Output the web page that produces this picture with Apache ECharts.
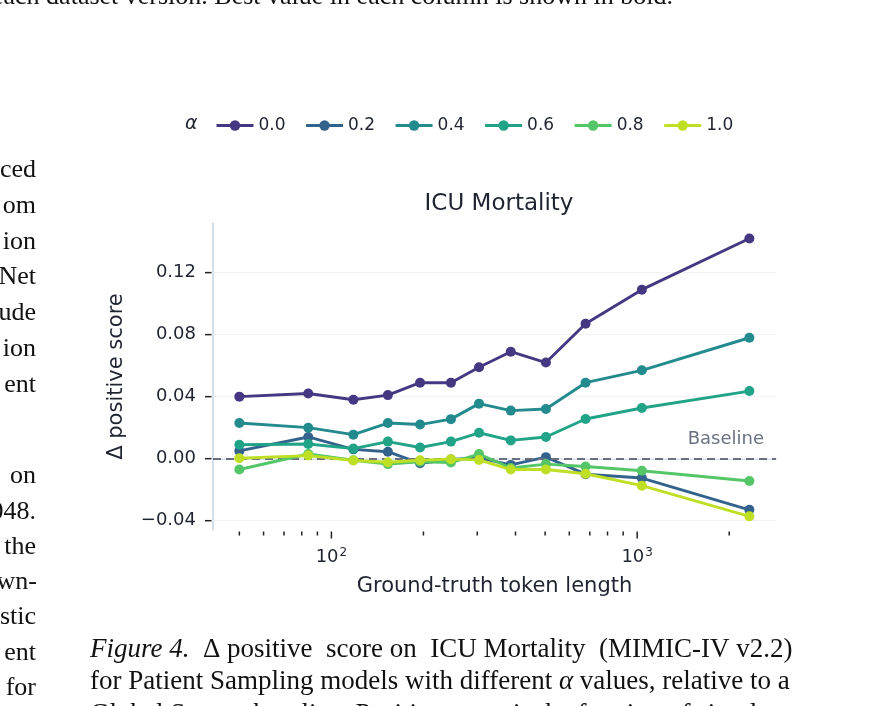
<!doctype html>
<html>
<head>
    <meta charset="utf-8">
    <title>ICU Mortality</title>
    <script src="https://cdn.jsdelivr.net/npm/echarts@6/dist/echarts.min.js"></script>
    <style>
    html, body { margin: 0; padding: 0; background: #fff; }
    #main { width: 883px; height: 706px; }
    </style>
</head>
<body>
    <div id="main"></div>
    <script>
    // token length bins (x) and delta positive score per alpha
    var tokenLen = [50, 84, 118, 153, 195, 246, 304, 386, 503, 678, 1036, 2328];
    var alphaNames = ['0.0', '0.2', '0.4', '0.6', '0.8', '1.0'];
    var a00 = [0.040, 0.042, 0.038, 0.041, 0.049, 0.049, 0.059, 0.069, 0.062, 0.087, 0.109, 0.142];
    var a02 = [0.005, 0.014, 0.006, 0.0045, -0.003, -0.0005, 0.0005, -0.004, 0.001, -0.010, -0.0125, -0.033];
    var a04 = [0.023, 0.020, 0.0155, 0.023, 0.022, 0.0255, 0.0355, 0.031, 0.032, 0.049, 0.057, 0.078];
    var a06 = [0.009, 0.0095, 0.0065, 0.011, 0.0072, 0.011, 0.0167, 0.0118, 0.014, 0.0256, 0.0327, 0.0436];
    var a08 = [-0.007, 0.003, -0.001, -0.0035, -0.002, -0.0025, 0.003, -0.006, -0.0035, -0.005, -0.0078, -0.0144];
    var a10 = [0.0003, 0.002, -0.0012, -0.0023, -0.001, -0.0003, -0.0008, -0.007, -0.007, -0.0097, -0.0174, -0.0372];
    var allSeries = [a00, a02, a04, a06, a08, a10];
    var colors = ['#453781', '#33638d', '#238a8d', '#20a386', '#55c667', '#bfdf25'];

    // tick positions
    var xMajorTicks = [100, 1000];
    var xMinorTicks = [50, 60, 70, 80, 90, 200, 300, 400, 500, 600, 700, 800, 900, 2000];
    var yTicks = [-0.04, 0.0, 0.04, 0.08, 0.12];

    var xMin = 41, xMax = 2845;
    var yMin = -0.046, yMax = 0.152;
    var sans = 'DejaVu Sans';
    var serif = 'Liberation Serif';
    var bodyFont = '26px "Liberation Serif"';

    function pair(xs, ys) {
        var out = [];
        for (var i = 0; i < xs.length; i++) out.push([xs[i], ys[i]]);
        return out;
    }

    var series = [];

    // faint horizontal grid lines at the labelled y ticks
    series.push({
        type: 'custom',
        silent: true,
        clip: false,
        z: 1,
        data: yTicks.map(function (v) { return [xMin, v]; }),
        renderItem: function (params, api) {
            var a = api.coord([xMin, api.value(1)]);
            var b = api.coord([xMax, api.value(1)]);
            return {
                type: 'line',
                shape: { x1: a[0], y1: a[1], x2: b[0], y2: b[1] },
                style: { stroke: '#eff1f5', lineWidth: 1 }
            };
        }
    });

    for (var k = 0; k < allSeries.length; k++) {
        series.push({
            name: alphaNames[k],
            type: 'line',
            data: pair(tokenLen, allSeries[k]),
            symbol: 'circle',
            symbolSize: 10,
            showSymbol: true,
            lineStyle: { width: 2.9, color: colors[k] },
            itemStyle: { color: colors[k] },
            z: 3 + k,
            markLine: k === 0 ? {
                silent: true,
                symbol: 'none',
                data: [{ yAxis: 0 }],
                lineStyle: { color: '#6b7080', width: 2.2, type: [8, 5] },
                label: {
                    show: true,
                    formatter: 'Baseline',
                    position: 'insideEndTop',
                    color: '#6b7280',
                    fontFamily: sans,
                    fontSize: 18,
                    distance: [12, 10]
                }
            } : undefined
        });
    }

    // x axis ticks (log spaced) drawn through the axis scale
    var xTickData = [];
    xMinorTicks.forEach(function (v) { xTickData.push([v, yMin, 0]); });
    xMajorTicks.forEach(function (v) { xTickData.push([v, yMin, 1]); });
    series.push({
        type: 'custom',
        silent: true,
        clip: false,
        data: xTickData,
        z: 10,
        renderItem: function (params, api) {
            var p = api.coord([api.value(0), api.value(1)]);
            var len = api.value(2) ? 7 : 4;
            return {
                type: 'line',
                shape: { x1: p[0], y1: p[1] + 1.5, x2: p[0], y2: p[1] + 1.5 + len },
                style: { stroke: '#222', lineWidth: 1.5 }
            };
        }
    });

    // y axis ticks at the labelled values
    series.push({
        type: 'custom',
        silent: true,
        clip: false,
        data: yTicks.map(function (v) { return [xMin, v]; }),
        z: 10,
        renderItem: function (params, api) {
            var p = api.coord([xMin, api.value(1)]);
            return {
                type: 'line',
                shape: { x1: p[0] - 8, y1: p[1], x2: p[0] - 1.5, y2: p[1] },
                style: { stroke: '#222', lineWidth: 1.5 }
            };
        }
    });

    var chart = echarts.init(document.getElementById('main'));
    chart.setOption({
        backgroundColor: '#fff',
        animation: false,
        textStyle: { fontFamily: sans },
        title: {
            text: 'ICU Mortality',
            left: 494,
            textAlign: 'center',
            top: 188,
            textStyle: { fontFamily: sans, fontSize: 23, fontWeight: 'normal', color: '#1f2430' }
        },
        legend: {
            data: alphaNames,
            left: 215,
            top: 117,
            padding: 0,
            itemWidth: 37,
            itemHeight: 13,
            itemGap: 19,
            lineStyle: { width: 3 },
            textStyle: { fontFamily: sans, fontSize: 17, color: '#1f2430' }
        },
        grid: { left: 213, right: 107, top: 223, bottom: 176, containLabel: false },
        xAxis: {
            type: 'log',
            logBase: 10,
            min: xMin,
            max: xMax,
            name: 'Ground-truth token length',
            nameLocation: 'middle',
            nameGap: 46,
            nameTextStyle: { fontFamily: sans, fontSize: 21, color: '#1f2430' },
            axisLine: { show: true, lineStyle: { color: '#cbd5e1', width: 1.6 } },
            axisTick: { show: false },
            splitLine: { show: false },
            axisLabel: {
                margin: 17,
                showMinLabel: false,
                showMaxLabel: false,
                color: '#1f2430',
                fontFamily: sans,
                fontSize: 18,
                formatter: function (v) {
                    var e = Math.round(Math.log(v) / Math.LN10);
                    if (Math.abs(v - Math.pow(10, e)) > 1e-6 * v) return '';
                    return '10{sup|' + e + '}';
                },
                rich: {
                    sup: { fontSize: 12, verticalAlign: 'top', padding: [0, 0, 8, 1], fontFamily: sans, color: '#1f2430' }
                }
            }
        },
        yAxis: {
            type: 'value',
            min: yMin,
            max: yMax,
            interval: 0.002,
            name: 'Δ positive score',
            nameLocation: 'middle',
            nameRotate: 90,
            nameGap: 86,
            nameTextStyle: { fontFamily: sans, fontSize: 21, color: '#1f2430' },
            axisLine: { show: true, lineStyle: { color: '#cbd5e1', width: 1.6 } },
            axisTick: { show: false },
            splitLine: { show: false },
            axisLabel: {
                margin: 17,
                showMinLabel: false,
                showMaxLabel: false,
                color: '#1f2430',
                fontFamily: sans,
                fontSize: 18,
                formatter: function (v) {
                    var r = v / 0.04;
                    if (Math.abs(r - Math.round(r)) > 1e-4) return '';
                    var s = Math.abs(v).toFixed(2);
                    return v < -1e-9 ? '\u2212' + s : s;
                }
            }
        },
        graphic: [
            { type: 'text', left: 185, top: 115, style: { text: 'α', font: 'italic 19px "DejaVu Sans"', fill: '#1f2430' } },
            { type: 'text', x: -8, y: -3, style: { text: 'each dataset version. Best value in each column is shown in bold.', font: bodyFont, fill: '#111', verticalAlign: 'middle' } },
            { type: 'text', x: 36, y: 170, style: { text: 'ced', font: bodyFont, fill: '#111', align: 'right', verticalAlign: 'middle' } },
            { type: 'text', x: 36, y: 206, style: { text: 'om', font: bodyFont, fill: '#111', align: 'right', verticalAlign: 'middle' } },
            { type: 'text', x: 36, y: 242, style: { text: 'ion', font: bodyFont, fill: '#111', align: 'right', verticalAlign: 'middle' } },
            { type: 'text', x: 36, y: 277, style: { text: 'Net', font: bodyFont, fill: '#111', align: 'right', verticalAlign: 'middle' } },
            { type: 'text', x: 36, y: 313, style: { text: 'ude', font: bodyFont, fill: '#111', align: 'right', verticalAlign: 'middle' } },
            { type: 'text', x: 36, y: 349, style: { text: 'ion', font: bodyFont, fill: '#111', align: 'right', verticalAlign: 'middle' } },
            { type: 'text', x: 36, y: 385, style: { text: 'ent', font: bodyFont, fill: '#111', align: 'right', verticalAlign: 'middle' } },
            { type: 'text', x: 36, y: 476, style: { text: 'on', font: bodyFont, fill: '#111', align: 'right', verticalAlign: 'middle' } },
            { type: 'text', x: 36, y: 512, style: { text: '2048.', font: bodyFont, fill: '#111', align: 'right', verticalAlign: 'middle' } },
            { type: 'text', x: 36, y: 547, style: { text: 'the', font: bodyFont, fill: '#111', align: 'right', verticalAlign: 'middle' } },
            { type: 'text', x: 37, y: 582, style: { text: 'wn-', font: bodyFont, fill: '#111', align: 'right', verticalAlign: 'middle' } },
            { type: 'text', x: 36, y: 617, style: { text: 'stic', font: bodyFont, fill: '#111', align: 'right', verticalAlign: 'middle' } },
            { type: 'text', x: 36, y: 653, style: { text: 'ent', font: bodyFont, fill: '#111', align: 'right', verticalAlign: 'middle' } },
            { type: 'text', x: 36, y: 688, style: { text: 'for', font: bodyFont, fill: '#111', align: 'right', verticalAlign: 'middle' } },
            {
                type: 'text', x: 90, y: 650,
                style: {
                    text: '{i|Figure 4.}  Δ positive  score on  ICU Mortality  (MIMIC-IV v2.2)',
                    font: '27px "Liberation Serif"', fill: '#111', verticalAlign: 'middle',
                    rich: { i: { fontStyle: 'italic', fontFamily: serif, fontSize: 27, fill: '#111' } }
                }
            },
            {
                type: 'text', x: 90, y: 682,
                style: {
                    text: 'for Patient Sampling models with different {i|α} values, relative to a',
                    font: '27px "Liberation Serif"', fill: '#111', verticalAlign: 'middle',
                    rich: { i: { fontStyle: 'italic', fontFamily: serif, fontSize: 27, fill: '#111' } }
                }
            },
            { type: 'text', x: 90, y: 715, style: { text: 'Global Stream baseline. Positive score is the fraction of simula-', font: '27px "Liberation Serif"', fill: '#111', verticalAlign: 'middle' } }
        ],
        series: series
    });
    </script>
</body>
</html>
